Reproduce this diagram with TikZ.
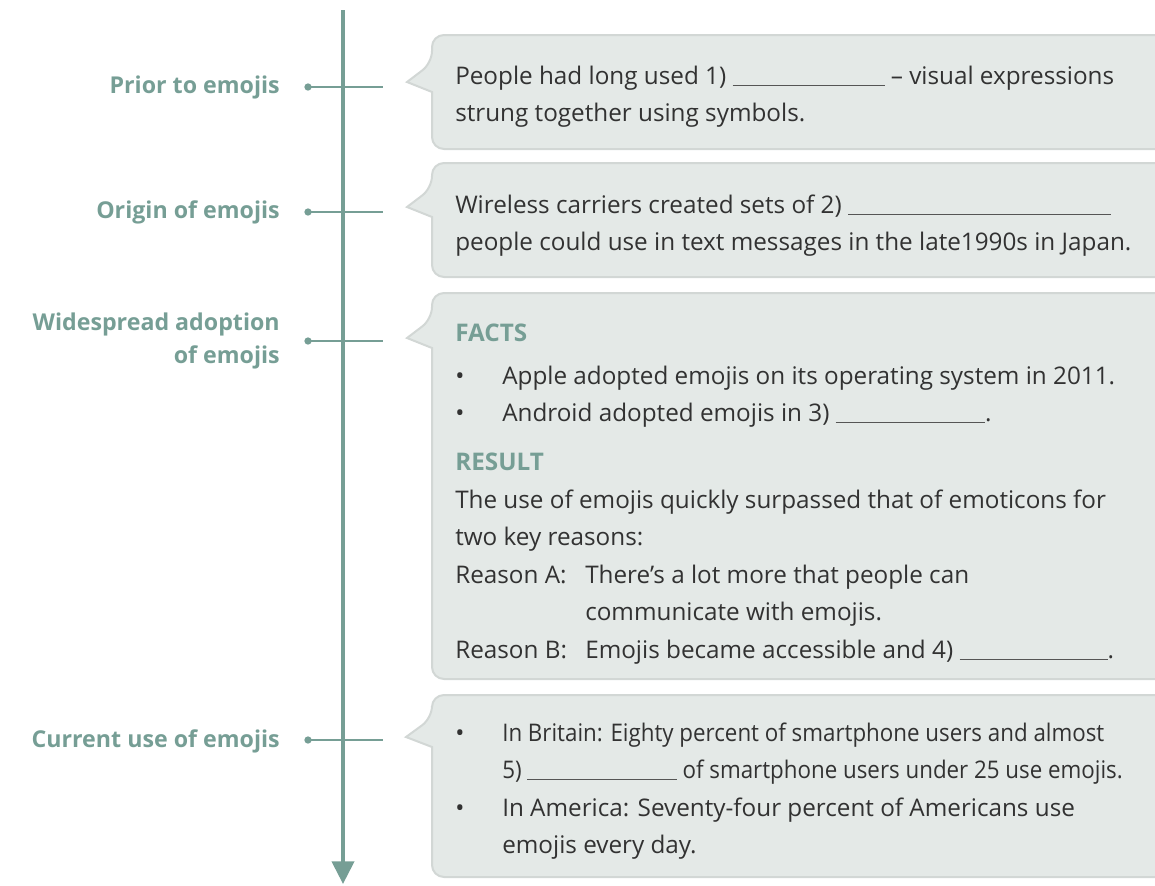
\documentclass[tikz,border=0pt]{standalone}
\usepackage{fontspec}
\setmainfont{Open Sans}
\newfontfamily\narrowfont{Open Sans}[FakeStretch=0.92]
\usetikzlibrary{arrows.meta}
\definecolor{teal}{RGB}{118,158,149}
\definecolor{boxfill}{RGB}{228,233,231}
\definecolor{boxedge}{RGB}{210,215,213}
\definecolor{textgray}{RGB}{50,50,50}
\definecolor{blankgray}{RGB}{85,85,85}
\newcommand{\bodyfont}{\fontsize{18.2pt}{21pt}\selectfont}
\newcommand{\labelfont}{\fontsize{17.4pt}{21pt}\selectfont\bfseries}
\newcommand{\blank}[1]{\textcolor{blankgray}{\rule[-1.5pt]{#1}{0.8pt}}}
\tikzset{
  txt/.style={anchor=base west, inner sep=0pt, text=textgray, font=\bodyfont},
  ntxt/.style={anchor=base west, inner sep=0pt, text=textgray, font=\bodyfont\narrowfont},
  hdr/.style={anchor=base west, inner sep=0pt, text=teal, font=\bodyfont\bfseries},
  lbl/.style={anchor=base east, inner sep=0pt, text=teal, font=\labelfont},
  bul/.style={anchor=base, inner sep=0pt, text=textgray, font=\bodyfont},
  boxshape/.style={fill=boxfill, draw=boxedge, line width=1.5pt},
  tick/.style={draw=teal, line width=1.8pt},
  tdot/.style={circle, fill=teal, inner sep=0pt, minimum size=5.5pt},
  axis/.style={draw=teal, line width=3pt, -{Triangle[width=16.5pt,length=17pt]}}
}
\begin{document}
\begin{tikzpicture}[x=0.75pt,y=-0.75pt]
\useasboundingbox (0,0) rectangle (1155,885);
% boxes
\path[boxshape] (432,92) [rounded corners=9pt] -- (432,149) -- (1175,149) -- (1175,35) -- (432,35) -- (432,63) [sharp corners] -- (407,82) -- cycle;
\path[boxshape] (432,217) [rounded corners=9pt] -- (432,277) -- (1175,277) -- (1175,163) -- (432,163) -- (432,188) [sharp corners] -- (407,207) -- cycle;
\path[boxshape] (432,348) [rounded corners=9pt] -- (432,679) -- (1175,679) -- (1175,293) -- (432,293) -- (432,319) [sharp corners] -- (407,338) -- cycle;
\path[boxshape] (432,747) [rounded corners=9pt] -- (432,877) -- (1175,877) -- (1175,695) -- (432,695) -- (432,718) [sharp corners] -- (406,737) -- cycle;
% axis
\coordinate (top) at (343,10);
\coordinate (bot) at (343,884);
\draw[axis] (top) -- (bot);
% ticks
\foreach \n/\y in {a/87, b/212, c/341, d/740}{
  \node[tdot] (dot\n) at (308,\y) {};
  \coordinate (end\n) at (383,\y);
  \draw[tick] (dot\n.center) -- (end\n);
}
% labels
\node[lbl] (l1) at (280,93) {Prior to emojis};
\node[lbl] (l2) at (280,218) {Origin of emojis};
\node[lbl] (l3a) at (280,330) {Widespread adoption};
\node[lbl] (l3b) at (280,363) {of emojis};
\node[lbl] (l4) at (280,747) {Current use of emojis};
% box 1
\node[txt] (t11) at (455,84) {People had long used 1) \blank{114pt} – visual expressions};
\node[txt] (t12) at (455,121) {strung together using symbols.};
% box 2
\node[txt] (t21) at (455,213) {Wireless carriers created sets of 2) \blank{197pt}};
\node[txt] (t22) at (455,250) {people could use in text messages in the late1990s in Japan.};
% box 3
\node[hdr] (t31) at (455,341) {FACTS};
\node[bul] (b32) at (460,384) {•};
\node[txt] (t32) at (502,384) {Apple adopted emojis on its operating system in 2011.};
\node[bul] (b33) at (460,421) {•};
\node[txt] (t33) at (502,421) {Android adopted emojis in 3) \blank{112pt}.};
\node[hdr] (t34) at (455,470) {RESULT};
\node[txt] (t35) at (455,508) {The use of emojis quickly surpassed that of emoticons for};
\node[txt] (t36) at (455,545) {two key reasons:};
\node[txt] (t37a) at (455,583) {Reason A:};
\node[txt] (t37b) at (585,583) {There’s a lot more that people can};
\node[txt] (t38) at (585,620) {communicate with emojis.};
\node[txt] (t39a) at (455,658) {Reason B:};
\node[txt] (t39b) at (585,658) {Emojis became accessible and 4) \blank{111pt}.};
% box 4
\node[bul] (b41) at (460,741) {•};
\node[ntxt] (t41) at (502,741) {In Britain: Eighty percent of smartphone users and almost};
\node[ntxt] (t42) at (502,778) {5) \blank{112pt} of smartphone users under 25 use emojis.};
\node[bul] (b43) at (460,816) {•};
\node[txt] (t43) at (502,816) {In America: Seventy-four percent of Americans use};
\node[txt] (t44) at (502,853) {emojis every day.};
\end{tikzpicture}
\end{document}
